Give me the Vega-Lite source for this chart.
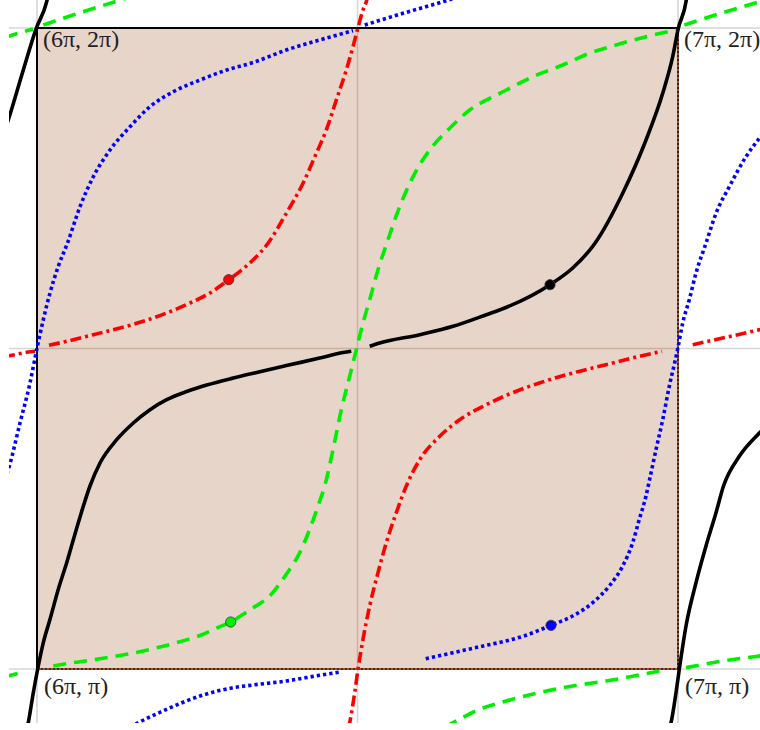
{
"$schema":"https://vega.github.io/schema/vega-lite/v6.json",
"width":751,"height":723,
"autosize":{"type":"none"},
"padding":{"left":9,"top":0,"right":0,"bottom":7},
"background":"white",
"config":{"view":{"stroke":null}},
"encoding":{
 "x":{"field":"x","type":"quantitative","scale":{"domain":[5.956318,7.127925],"nice":false,"zero":false},"axis":null},
 "y":{"field":"y","type":"quantitative","scale":{"domain":[0.915757,2.043682],"nice":false,"zero":false},"axis":null}
},
"datasets":{
 "grid":[{"x":6,"y":0.85,"x2":6,"y2":2.1},{"x":6.5,"y":0.85,"x2":6.5,"y2":2.1},{"x":7,"y":0.85,"x2":7,"y2":2.1},{"x":5.9,"y":1,"x2":7.2,"y2":1},{"x":5.9,"y":1.5,"x2":7.2,"y2":1.5},{"x":5.9,"y":2,"x2":7.2,"y2":2}],
 "box":[{"x":6,"y":1,"x2":7,"y2":2}],
 "inner":[{"x":6.5,"y":1,"x2":6.5,"y2":2},{"x":6,"y":1.5,"x2":7,"y2":1.5}],
 "edges":[{"k":"solid","x":6,"y":1,"x2":6,"y2":2},{"k":"solid","x":6,"y":2,"x2":7,"y2":2},{"k":"dash","x":7,"y":1,"x2":7,"y2":2},{"k":"dash","x":6,"y":1,"x2":7,"y2":1}],
 "curves":[
  {"c":"k","s":"b1","x":5.98440,"y":0.90640},{"c":"k","s":"b1","x":5.98643,"y":0.91622},{"c":"k","s":"b1","x":5.99423,"y":0.96303},{"c":"k","s":"b1","x":6.00203,"y":1.00468},{"c":"k","s":"b1","x":6.00983,"y":1.04103},{"c":"k","s":"b1","x":6.02028,"y":1.07753},{"c":"k","s":"b1","x":6.03323,"y":1.12434},{"c":"k","s":"b1","x":6.04633,"y":1.16583},{"c":"k","s":"b1","x":6.06443,"y":1.22824},{"c":"k","s":"b1","x":6.08268,"y":1.28549},{"c":"k","s":"b1","x":6.09828,"y":1.32137},{"c":"k","s":"b1","x":6.12434,"y":1.35772},{"c":"k","s":"b1","x":6.15023,"y":1.38378},{"c":"k","s":"b1","x":6.17629,"y":1.40452},{"c":"k","s":"b1","x":6.20234,"y":1.42012},{"c":"k","s":"b1","x":6.23354,"y":1.43292},{"c":"k","s":"b1","x":6.26474,"y":1.44306},{"c":"k","s":"b1","x":6.30624,"y":1.45398},{"c":"k","s":"b1","x":6.33744,"y":1.46147},{"c":"k","s":"b1","x":6.38892,"y":1.47332},{"c":"k","s":"b1","x":6.44103,"y":1.48502},{"c":"k","s":"b1","x":6.47738,"y":1.49360},{"c":"k","s":"b1","x":6.49033,"y":1.49579},
  {"c":"k","s":"b2","x":6.51903,"y":1.50343},{"c":"k","s":"b2","x":6.53463,"y":1.50858},{"c":"k","s":"b2","x":6.59703,"y":1.52153},{"c":"k","s":"b2","x":6.64899,"y":1.53463},{"c":"k","s":"b2","x":6.70094,"y":1.55273},{"c":"k","s":"b2","x":6.73167,"y":1.56396},{"c":"k","s":"b2","x":6.80031,"y":1.59953},{"c":"k","s":"b2","x":6.83573,"y":1.62559},{"c":"k","s":"b2","x":6.87051,"y":1.66412},{"c":"k","s":"b2","x":6.91373,"y":1.74212},{"c":"k","s":"b2","x":6.95008,"y":1.82527},{"c":"k","s":"b2","x":6.97613,"y":1.89813},{"c":"k","s":"b2","x":6.99173,"y":1.95523},{"c":"k","s":"b2","x":7.00047,"y":1.99953},{"c":"k","s":"b2","x":7.01248,"y":2.04103},{"c":"k","s":"b2","x":7.01404,"y":2.05148},
  {"c":"k","s":"b3","x":5.94852,"y":1.83619},{"c":"k","s":"b3","x":5.95679,"y":1.86162},{"c":"k","s":"b3","x":5.97769,"y":1.93136},{"c":"k","s":"b3","x":5.99922,"y":2.00047},{"c":"k","s":"b3","x":6.01513,"y":2.04103},{"c":"k","s":"b3","x":6.01716,"y":2.04992},
  {"c":"k","s":"b4","x":6.98674,"y":0.90796},{"c":"k","s":"b4","x":6.98908,"y":0.91622},{"c":"k","s":"b4","x":6.99688,"y":0.96303},{"c":"k","s":"b4","x":7.00203,"y":0.99953},{"c":"k","s":"b4","x":7.01248,"y":1.06708},{"c":"k","s":"b4","x":7.02808,"y":1.13463},{"c":"k","s":"b4","x":7.04368,"y":1.19189},{"c":"k","s":"b4","x":7.05928,"y":1.24384},{"c":"k","s":"b4","x":7.07098,"y":1.28549},{"c":"k","s":"b4","x":7.09563,"y":1.33183},{"c":"k","s":"b4","x":7.12683,"y":1.36817},{"c":"k","s":"b4","x":7.13729,"y":1.37910},
  {"c":"g","s":"g1","x":6.02543,"y":1.00468},{"c":"g","s":"g1","x":6.05663,"y":1.00983},{"c":"g","s":"g1","x":6.09314,"y":1.01513},{"c":"g","s":"g1","x":6.12434,"y":1.02028},{"c":"g","s":"g1","x":6.16069,"y":1.02699},{"c":"g","s":"g1","x":6.19189,"y":1.03432},{"c":"g","s":"g1","x":6.22309,"y":1.04259},{"c":"g","s":"g1","x":6.25429,"y":1.05226},{"c":"g","s":"g1","x":6.28034,"y":1.06396},{"c":"g","s":"g1","x":6.30218,"y":1.07332},{"c":"g","s":"g1","x":6.32184,"y":1.08534},{"c":"g","s":"g1","x":6.33744,"y":1.09563},{"c":"g","s":"g1","x":6.36303,"y":1.11388},{"c":"g","s":"g1","x":6.38892,"y":1.14774},{"c":"g","s":"g1","x":6.40983,"y":1.18144},{"c":"g","s":"g1","x":6.42543,"y":1.21794},{"c":"g","s":"g1","x":6.43838,"y":1.25429},{"c":"g","s":"g1","x":6.44883,"y":1.28549},{"c":"g","s":"g1","x":6.46178,"y":1.34212},{"c":"g","s":"g1","x":6.47473,"y":1.40452},{"c":"g","s":"g1","x":6.48783,"y":1.45663},{"c":"g","s":"g1","x":6.49813,"y":1.49813},{"c":"g","s":"g1","x":6.50858,"y":1.53978},{"c":"g","s":"g1","x":6.51903,"y":1.57613},{"c":"g","s":"g1","x":6.53198,"y":1.62293},{"c":"g","s":"g1","x":6.54524,"y":1.66303},{"c":"g","s":"g1","x":6.56583,"y":1.72122},{"c":"g","s":"g1","x":6.58658,"y":1.76802},{"c":"g","s":"g1","x":6.61263,"y":1.80967},{"c":"g","s":"g1","x":6.64383,"y":1.84353},{"c":"g","s":"g1","x":6.67504,"y":1.87207},{"c":"g","s":"g1","x":6.70624,"y":1.89033},{"c":"g","s":"g1","x":6.73214,"y":1.90328},{"c":"g","s":"g1","x":6.77332,"y":1.92403},{"c":"g","s":"g1","x":6.82012,"y":1.94228},{"c":"g","s":"g1","x":6.86162,"y":1.96053},{"c":"g","s":"g1","x":6.90327,"y":1.97348},{"c":"g","s":"g1","x":6.95008,"y":1.98643},{"c":"g","s":"g1","x":6.99688,"y":1.99688},
  {"c":"g","s":"g2","x":7.00982,"y":2.00468},{"c":"g","s":"g2","x":7.06552,"y":2.02262},{"c":"g","s":"g2","x":7.12683,"y":2.04103},{"c":"g","s":"g2","x":7.13729,"y":2.04446},
  {"c":"g","s":"g3","x":5.95008,"y":1.98518},{"c":"g","s":"g3","x":5.95679,"y":1.98752},{"c":"g","s":"g3","x":5.99376,"y":1.99844},
  {"c":"g","s":"g4","x":6.00983,"y":2.00468},{"c":"g","s":"g4","x":6.06552,"y":2.02340},{"c":"g","s":"g4","x":6.12168,"y":2.04103},{"c":"g","s":"g4","x":6.13729,"y":2.04602},
  {"c":"g","s":"g5","x":5.95008,"y":0.98830},{"c":"g","s":"g5","x":5.96053,"y":0.99064},{"c":"g","s":"g5","x":5.97863,"y":0.99579},
  {"c":"g","s":"g6","x":6.63650,"y":0.90952},{"c":"g","s":"g6","x":6.64899,"y":0.91622},{"c":"g","s":"g6","x":6.69064,"y":0.93713},{"c":"g","s":"g6","x":6.73214,"y":0.95008},{"c":"g","s":"g6","x":6.78362,"y":0.96303},{"c":"g","s":"g6","x":6.83573,"y":0.97348},{"c":"g","s":"g6","x":6.88768,"y":0.98128},{"c":"g","s":"g6","x":6.93963,"y":0.99064},{"c":"g","s":"g6","x":6.97192,"y":0.99688},
  {"c":"g","s":"g7","x":7.01248,"y":1.00203},{"c":"g","s":"g7","x":7.06973,"y":1.01248},{"c":"g","s":"g7","x":7.12683,"y":1.02028},{"c":"g","s":"g7","x":7.13729,"y":1.02184},
  {"c":"r","s":"r1","x":6.01872,"y":1.50515},{"c":"r","s":"r1","x":6.04633,"y":1.51123},{"c":"r","s":"r1","x":6.08783,"y":1.52153},{"c":"r","s":"r1","x":6.12949,"y":1.53198},{"c":"r","s":"r1","x":6.16583,"y":1.54243},{"c":"r","s":"r1","x":6.20234,"y":1.55538},{"c":"r","s":"r1","x":6.23869,"y":1.57098},{"c":"r","s":"r1","x":6.26989,"y":1.58658},{"c":"r","s":"r1","x":6.29906,"y":1.60733},{"c":"r","s":"r1","x":6.31669,"y":1.62044},{"c":"r","s":"r1","x":6.33744,"y":1.63853},{"c":"r","s":"r1","x":6.36037,"y":1.66412},{"c":"r","s":"r1","x":6.38892,"y":1.71092},{"c":"r","s":"r1","x":6.41498,"y":1.75772},{"c":"r","s":"r1","x":6.43573,"y":1.80452},{"c":"r","s":"r1","x":6.45133,"y":1.84087},{"c":"r","s":"r1","x":6.46693,"y":1.88768},{"c":"r","s":"r1","x":6.48253,"y":1.93448},{"c":"r","s":"r1","x":6.49298,"y":1.97083},{"c":"r","s":"r1","x":6.50078,"y":2.00047},{"c":"r","s":"r1","x":6.50858,"y":2.02808},{"c":"r","s":"r1","x":6.51373,"y":2.04103},{"c":"r","s":"r1","x":6.51560,"y":2.04836},
  {"c":"r","s":"r2","x":6.48596,"y":0.90796},{"c":"r","s":"r2","x":6.48783,"y":0.91622},{"c":"r","s":"r2","x":6.49563,"y":0.96303},{"c":"r","s":"r2","x":6.50078,"y":0.99953},{"c":"r","s":"r2","x":6.50858,"y":1.04633},{"c":"r","s":"r2","x":6.51903,"y":1.09828},{"c":"r","s":"r2","x":6.53198,"y":1.15023},{"c":"r","s":"r2","x":6.54493,"y":1.19704},{"c":"r","s":"r2","x":6.56053,"y":1.24384},{"c":"r","s":"r2","x":6.57613,"y":1.28549},{"c":"r","s":"r2","x":6.59703,"y":1.32652},{"c":"r","s":"r2","x":6.62824,"y":1.36303},{"c":"r","s":"r2","x":6.65944,"y":1.38893},{"c":"r","s":"r2","x":6.70094,"y":1.41232},{"c":"r","s":"r2","x":6.73167,"y":1.42668},{"c":"r","s":"r2","x":6.78362,"y":1.44618},{"c":"r","s":"r2","x":6.83573,"y":1.46178},{"c":"r","s":"r2","x":6.88768,"y":1.47473},{"c":"r","s":"r2","x":6.93963,"y":1.48783},{"c":"r","s":"r2","x":6.97504,"y":1.49563},
  {"c":"r","s":"r3","x":7.02293,"y":1.50593},{"c":"r","s":"r3","x":7.06973,"y":1.51638},{"c":"r","s":"r3","x":7.12683,"y":1.52933},{"c":"r","s":"r3","x":7.13729,"y":1.53198},
  {"c":"r","s":"r4","x":5.94852,"y":1.48752},{"c":"r","s":"r4","x":5.95679,"y":1.48877},{"c":"r","s":"r4","x":5.98393,"y":1.49407},{"c":"r","s":"r4","x":5.99688,"y":1.49563},
  {"c":"b","s":"l1","x":5.95008,"y":1.29485},{"c":"b","s":"l1","x":5.95679,"y":1.31622},{"c":"b","s":"l1","x":5.97348,"y":1.38378},{"c":"b","s":"l1","x":5.98908,"y":1.44618},{"c":"b","s":"l1","x":5.99953,"y":1.49813},{"c":"b","s":"l1","x":6.00983,"y":1.54493},{"c":"b","s":"l1","x":6.02028,"y":1.58658},{"c":"b","s":"l1","x":6.03323,"y":1.62824},{"c":"b","s":"l1","x":6.04758,"y":1.66459},{"c":"b","s":"l1","x":6.06708,"y":1.72122},{"c":"b","s":"l1","x":6.08783,"y":1.76802},{"c":"b","s":"l1","x":6.11388,"y":1.80967},{"c":"b","s":"l1","x":6.14509,"y":1.84602},{"c":"b","s":"l1","x":6.17629,"y":1.87722},{"c":"b","s":"l1","x":6.21264,"y":1.90062},{"c":"b","s":"l1","x":6.25429,"y":1.91888},{"c":"b","s":"l1","x":6.29594,"y":1.93448},{"c":"b","s":"l1","x":6.33729,"y":1.94618},{"c":"b","s":"l1","x":6.38892,"y":1.96568},{"c":"b","s":"l1","x":6.44103,"y":1.98128},{"c":"b","s":"l1","x":6.49298,"y":1.99579},
  {"c":"b","s":"l2","x":6.51123,"y":2.00468},{"c":"b","s":"l2","x":6.57098,"y":2.02293},{"c":"b","s":"l2","x":6.63339,"y":2.04103},{"c":"b","s":"l2","x":6.64743,"y":2.04524},
  {"c":"b","s":"l3","x":6.60640,"y":1.01607},{"c":"b","s":"l3","x":6.64899,"y":1.02543},{"c":"b","s":"l3","x":6.70094,"y":1.03697},{"c":"b","s":"l3","x":6.73167,"y":1.04368},{"c":"b","s":"l3","x":6.76287,"y":1.05257},{"c":"b","s":"l3","x":6.80187,"y":1.06817},{"c":"b","s":"l3","x":6.83573,"y":1.08268},{"c":"b","s":"l3","x":6.86693,"y":1.10343},{"c":"b","s":"l3","x":6.89282,"y":1.12949},{"c":"b","s":"l3","x":6.91373,"y":1.16069},{"c":"b","s":"l3","x":6.92933,"y":1.19704},{"c":"b","s":"l3","x":6.93963,"y":1.23354},{"c":"b","s":"l3","x":6.95008,"y":1.26989},{"c":"b","s":"l3","x":6.95351,"y":1.28549},{"c":"b","s":"l3","x":6.96568,"y":1.34212},{"c":"b","s":"l3","x":6.97613,"y":1.38893},{"c":"b","s":"l3","x":6.98643,"y":1.44103},{"c":"b","s":"l3","x":6.99953,"y":1.49922},{"c":"b","s":"l3","x":7.00733,"y":1.53978},{"c":"b","s":"l3","x":7.01763,"y":1.57613},{"c":"b","s":"l3","x":7.02808,"y":1.61778},{"c":"b","s":"l3","x":7.04368,"y":1.66427},{"c":"b","s":"l3","x":7.05928,"y":1.71092},{"c":"b","s":"l3","x":7.08003,"y":1.75242},{"c":"b","s":"l3","x":7.10608,"y":1.79922},{"c":"b","s":"l3","x":7.12683,"y":1.82793},{"c":"b","s":"l3","x":7.13729,"y":1.84087},
  {"c":"b","s":"l4","x":6.14509,"y":0.90952},{"c":"b","s":"l4","x":6.15803,"y":0.91622},{"c":"b","s":"l4","x":6.20234,"y":0.93713},{"c":"b","s":"l4","x":6.25429,"y":0.95788},{"c":"b","s":"l4","x":6.30624,"y":0.97083},{"c":"b","s":"l4","x":6.33697,"y":0.97504},{"c":"b","s":"l4","x":6.38892,"y":0.98128},{"c":"b","s":"l4","x":6.44103,"y":0.99017},{"c":"b","s":"l4","x":6.47316,"y":0.99532}
 ],
 "pts":[{"c":"r","x":6.29906,"y":1.60733},{"c":"k","x":6.80031,"y":1.59953},{"c":"g","x":6.30218,"y":1.07332},{"c":"b","x":6.80187,"y":1.06817}],
 "labels":[{"t":"(6π, 2π)","x":6,"y":2,"p":"top"},{"t":"(7π, 2π)","x":7,"y":2,"p":"top"},{"t":"(6π, π)","x":6,"y":1,"p":"bot"},{"t":"(7π, π)","x":7,"y":1,"p":"bot"}]
},
"layer":[
 {"data":{"name":"grid"},"mark":{"type":"rule","color":"#d6d6d6","strokeWidth":1.6,"clip":true},"encoding":{"x2":{"field":"x2"},"y2":{"field":"y2"}}},
 {"data":{"name":"box"},"mark":{"type":"rect","fill":"#e8d5ca","stroke":null},"encoding":{"x2":{"field":"x2"},"y2":{"field":"y2"}}},
 {"data":{"name":"inner"},"mark":{"type":"rule","color":"#c9b09f","strokeWidth":1.4},"encoding":{"x2":{"field":"x2"},"y2":{"field":"y2"}}},
 {"data":{"name":"edges"},"transform":[{"filter":"datum.k === 'solid'"}],"mark":{"type":"rule","color":"#000000","strokeWidth":2},"encoding":{"x2":{"field":"x2"},"y2":{"field":"y2"}}},
 {"data":{"name":"edges"},"transform":[{"filter":"datum.k === 'dash'"}],"mark":{"type":"rule","color":"#a0522d","strokeWidth":2},"encoding":{"x2":{"field":"x2"},"y2":{"field":"y2"}}},
 {"data":{"name":"edges"},"transform":[{"filter":"datum.k === 'dash'"}],"mark":{"type":"rule","color":"#000000","strokeWidth":1.2,"strokeDash":[2,2]},"encoding":{"x2":{"field":"x2"},"y2":{"field":"y2"}}},
 {"data":{"name":"curves"},"transform":[{"filter":"datum.c === 'k'"}],"mark":{"type":"line","color":"#000000","strokeWidth":3.6,"interpolate":"monotone","clip":true},"encoding":{"detail":{"field":"s"}}},
 {"data":{"name":"curves"},"transform":[{"filter":"datum.c === 'g'"}],"mark":{"type":"line","color":"#00ee00","strokeWidth":3.6,"strokeDash":[13,8],"strokeCap":"butt","interpolate":"monotone","clip":true},"encoding":{"detail":{"field":"s"}}},
 {"data":{"name":"curves"},"transform":[{"filter":"datum.c === 'r'"}],"mark":{"type":"line","color":"#ff0000","strokeWidth":3.6,"strokeDash":[11,4,3,4],"strokeCap":"butt","interpolate":"monotone","clip":true},"encoding":{"detail":{"field":"s"}}},
 {"data":{"name":"curves"},"transform":[{"filter":"datum.c === 'b'"}],"mark":{"type":"line","color":"#0000ff","strokeWidth":3.6,"strokeDash":[3.3,3],"strokeCap":"butt","interpolate":"monotone","clip":true},"encoding":{"detail":{"field":"s"}}},
 {"data":{"name":"pts"},"mark":{"type":"circle","size":105,"opacity":1,"stroke":"#333333","strokeWidth":0.8},"encoding":{"fill":{"field":"c","type":"nominal","scale":{"domain":["r","k","g","b"],"range":["#ff0000","#000000","#00ee00","#0000ff"]},"legend":null}}},
 {"data":{"name":"labels"},"transform":[{"filter":"datum.p === 'top'"}],"mark":{"type":"text","align":"left","baseline":"alphabetic","dx":6,"dy":19,"font":"Liberation Serif","fontSize":24,"color":"#222222"},"encoding":{"text":{"field":"t"}}},
 {"data":{"name":"labels"},"transform":[{"filter":"datum.p === 'bot'"}],"mark":{"type":"text","align":"left","baseline":"alphabetic","dx":7,"dy":25,"font":"Liberation Serif","fontSize":24,"color":"#222222"},"encoding":{"text":{"field":"t"}}}
]
}
